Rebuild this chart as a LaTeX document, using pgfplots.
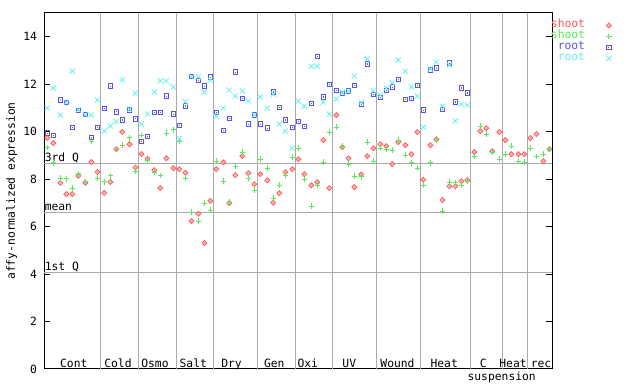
\documentclass[border=0pt]{standalone}
\usepackage{pgfplots}
\pgfplotsset{compat=1.18}
\usepackage{fontspec}
\setmainfont{DejaVu Sans Mono}
\definecolor{cred}{RGB}{255,85,85}
\definecolor{cgreen}{RGB}{85,235,85}
\definecolor{cblue}{RGB}{85,85,235}
\definecolor{ccyan}{RGB}{100,240,240}
\definecolor{gridgray}{RGB}{170,170,170}
\newcommand\f{\fontsize{8.5}{10}\selectfont}
\pgfdeclareplotmark{sqdot}{%
  \pgfpathrectangle{\pgfqpoint{-\pgfplotmarksize}{-\pgfplotmarksize}}{\pgfqpoint{2\pgfplotmarksize}{2\pgfplotmarksize}}\pgfusepathqstroke
  \pgfpathrectangle{\pgfqpoint{-0.4pt}{-0.4pt}}{\pgfqpoint{0.8pt}{0.8pt}}\pgfusepathqfill}
\begin{document}
\begin{tikzpicture}
\path[use as bounding box] (0,0) rectangle (480pt,288pt);
\begin{axis}[
  at={(33pt,11.25pt)}, anchor=south west,
  scale only axis, width=381pt, height=267pt,
  xmin=44, xmax=552, ymin=0, ymax=15,
  clip=false,
  axis line style={line width=0.75pt},
  xtick=\empty,
  ytick={0,2,...,14},
  tick align=inside, ytick pos=both, yticklabel pos=left,
  major tick length=4.5pt,
  every tick/.style={black, line width=0.75pt},
  /pgf/number format/assume math mode=true,
  ticklabel style={font=\f},
  yticklabel style={xshift=-1.7pt},
  extra x ticks={100,138.3,176.3,213.3,257.3,295.3,332.3,376.5,420.3,470.3,502.3,527.3},
  extra x tick labels={},
  extra x tick style={grid=major, major tick length=0pt},
  extra y ticks={4.08,6.61,8.67},
  extra y tick labels={},
  extra y tick style={grid=major, major tick length=0pt, ytick pos=left},
  major grid style={color=gridgray, line width=0.75pt},
  ylabel={affy-normalized expression},
  ylabel style={font=\f, at={(axis description cs:-0.0635,0.5)}, anchor=center},
  legend style={at={(rel axis cs:1,1)}, anchor=north west, xshift=-0.8pt, yshift=-5.2pt,
    draw=none, fill=none, inner sep=0pt, outer sep=0pt, font=\f,
    nodes={inner sep=0pt, text height=6pt, text depth=2.25pt},
    /tikz/column sep=15.75pt, row sep=0pt},
  legend cell align=right,
  legend plot pos=right,
]
\addplot[only marks, mark=square*, mark size=1.35pt, mark options={rotate=45, draw=cred, fill=cred!45, line width=0.5pt}] coordinates {
(47.3,9.74)(53.3,9.52)(60.3,7.84)(66.3,7.37)(72.3,7.37)(78.3,8.14)(85.3,7.85)(91.3,8.72)(97.3,8.30)
(104.3,7.42)(110.3,7.88)(116.3,9.26)(122.3,9.99)(129.5,9.47)(135.3,8.49)
(141.3,9.06)(147.5,8.85)(154.3,8.38)(160.3,7.62)(166.3,8.88)(173.3,8.46)
(179.3,8.42)(185.3,8.27)(191.5,6.23)(198.3,6.54)(204.3,5.31)(210.3,7.08)
(216.3,8.42)(223.3,8.71)(229.3,6.99)(235.3,8.17)(242.3,8.97)(248.3,8.25)(254.3,7.79)
(260.3,8.21)(267.3,7.95)(273.3,7.01)(279.3,7.41)(285.3,8.29)(292.3,8.42)
(298.3,8.84)(304.3,8.21)(311.3,7.74)(317.3,7.87)(323.3,9.64)(329.3,7.62)
(336.3,10.7)(342.3,9.35)(348.3,8.88)(354.3,7.66)(361.3,8.2)(367.3,8.97)(373.3,9.3)
(380.3,9.47)(386.3,9.39)(392.3,8.63)(398.3,9.56)(405.3,9.43)(411.3,9.05)(417.3,9.98)
(423.3,7.98)(430.3,9.43)(436.3,9.68)(442.3,7.12)(449.3,7.7)(455.3,7.7)(461.3,7.91)(467.3,7.96)
(474.3,9.14)(480.3,10.02)(486.3,10.15)(492.3,9.18)(499.3,9.98)
(505.3,9.64)(511.3,9.05)(518.3,9.05)(524.3,9.05)
(530.3,9.73)(536.3,9.9)(543.3,8.76)(549.3,9.26)
};
\addlegendentry{\textcolor{cred}{shoot}}
\addplot[only marks, mark=+, mark size=2.1pt, mark options={draw=cgreen, line width=0.75pt}] coordinates {
(47.3,9.33)(53.3,8.69)(60.3,8.04)(66.3,8.01)(72.3,7.62)(78.3,8.22)(85.3,7.9)(91.3,9.6)(97.3,8.04)
(104.3,7.88)(110.3,8.14)(116.3,9.25)(122.3,9.43)(129.5,9.74)(135.3,8.34)
(141.3,9.84)(147.5,8.77)(154.3,8.29)(160.3,8.16)(166.3,9.94)(173.3,10.07)
(179.3,9.6)(185.3,8.04)(191.5,6.61)(198.3,6.23)(204.3,6.99)(210.3,6.69)
(216.3,8.76)(223.3,7.91)(229.3,7.03)(235.3,8.55)(242.3,9.14)(248.3,8.04)(254.3,7.53)
(260.3,8.84)(267.3,8.46)(273.3,7.2)(279.3,7.74)(285.3,8.17)(292.3,8.92)
(298.3,9.3)(304.3,7.99)(311.3,6.86)(317.3,7.74)(323.3,8.71)(329.3,9.98)
(336.3,10.19)(342.3,9.39)(348.3,8.63)(354.3,8.12)(361.3,8.1)(367.3,9.56)(373.3,8.76)
(380.3,9.31)(386.3,9.26)(392.3,9.22)(398.3,9.64)(405.3,9.01)(411.3,8.69)(417.3,8.46)
(423.3,7.74)(430.3,8.69)(436.3,9.64)(442.3,6.65)(449.3,7.87)(455.3,7.84)(461.3,7.74)(467.3,7.91)
(474.3,8.96)(480.3,10.23)(486.3,9.9)(492.3,9.14)(499.3,8.84)
(505.3,9.05)(511.3,9.39)(518.3,8.76)(524.3,8.72)
(530.3,9.31)(536.3,8.96)(543.3,9.05)(549.3,9.26)
};
\addlegendentry{\textcolor{cgreen}{shoot}}
\addplot[only marks, mark=sqdot, mark size=1.6pt, mark options={draw=cblue, fill=cblue, line width=0.7pt}] coordinates {
(47.3,9.94)(53.3,9.85)(60.3,11.34)(66.3,11.24)(72.3,10.19)(78.3,10.88)(85.3,10.71)(91.3,9.77)(97.3,10.19)
(104.3,10.99)(110.3,11.92)(116.3,10.83)(122.3,10.49)(129.5,10.91)(135.3,10.54)
(141.3,9.6)(147.5,9.81)(154.3,10.82)(160.3,10.82)(166.3,11.5)(173.3,10.74)
(179.3,10.27)(185.3,11.08)(191.5,12.31)(198.3,12.17)(204.3,11.92)(210.3,12.3)
(216.3,10.82)(223.3,10.06)(229.3,10.57)(235.3,12.51)(242.3,11.41)(248.3,10.32)(254.3,10.7)
(260.3,10.32)(267.3,10.15)(273.3,11.67)(279.3,11.03)(285.3,10.49)(292.3,10.19)
(298.3,10.44)(304.3,10.23)(311.3,11.2)(317.3,13.18)(323.3,11.46)(329.3,12.0)
(336.3,11.75)(342.3,11.6)(348.3,11.71)(354.3,11.96)(361.3,11.16)(367.3,12.85)(373.3,11.58)
(380.3,11.45)(386.3,11.75)(392.3,11.88)(398.3,12.21)(405.3,11.37)(411.3,11.41)(417.3,11.96)
(423.3,10.91)(430.3,12.6)(436.3,12.68)(442.3,10.95)(449.3,12.89)(455.3,11.25)(461.3,11.84)(467.3,11.63)
};
\addlegendentry{\textcolor{cblue}{root}}
\addplot[only marks, mark=x, mark size=2.7pt, mark options={draw=ccyan, line width=0.6pt}] coordinates {
(47.3,10.99)(53.3,11.84)(60.3,10.7)(66.3,11.24)(72.3,12.55)(78.3,10.92)(85.3,10.71)(91.3,10.7)(97.3,11.34)
(104.3,10.03)(110.3,10.24)(116.3,10.42)(122.3,12.18)(129.5,10.95)(135.3,11.62)
(141.3,10.32)(147.5,10.75)(154.3,11.67)(160.3,12.14)(166.3,12.14)(173.3,11.88)
(179.3,9.7)(185.3,11.26)(191.5,12.31)(198.3,12.31)(204.3,11.67)(210.3,12.17)
(216.3,10.65)(223.3,10.99)(229.3,11.75)(235.3,11.5)(242.3,11.71)(248.3,11.29)(254.3,10.7)
(260.3,11.46)(267.3,10.99)(273.3,11.58)(279.3,10.32)(285.3,10.02)(292.3,9.3)
(298.3,11.29)(304.3,11.07)(311.3,12.76)(317.3,12.76)(323.3,11.24)(329.3,10.74)
(336.3,11.37)(342.3,11.65)(348.3,11.71)(354.3,12.34)(361.3,11.24)(367.3,13.06)(373.3,11.72)
(380.3,11.54)(386.3,11.84)(392.3,12.06)(398.3,13.02)(405.3,12.55)(411.3,11.88)(417.3,11.5)
(423.3,10.19)(430.3,12.65)(436.3,12.93)(442.3,11.08)(449.3,12.81)(455.3,10.45)(461.3,11.16)(467.3,11.12)
};
\addlegendentry{\textcolor{ccyan}{root}}
\node[font=\f, anchor=base west, inner sep=0pt] at (axis cs:44.5,8.67) [yshift=1.1pt] {3rd Q};
\node[font=\f, anchor=base west, inner sep=0pt] at (axis cs:44.5,6.61) [yshift=1.1pt] {mean};
\node[font=\f, anchor=base west, inner sep=0pt] at (axis cs:44.5,4.08) [yshift=1.1pt] {1st Q};
\node[font=\f, anchor=base, inner sep=0pt] at (axis cs:73.8,0) [yshift=0.75pt] {Cont};
\node[font=\f, anchor=base, inner sep=0pt] at (axis cs:118,0) [yshift=0.75pt] {Cold};
\node[font=\f, anchor=base, inner sep=0pt] at (axis cs:155,0) [yshift=0.75pt] {Osmo};
\node[font=\f, anchor=base, inner sep=0pt] at (axis cs:193.3,0) [yshift=0.75pt] {Salt};
\node[font=\f, anchor=base, inner sep=0pt] at (axis cs:231.5,0) [yshift=0.75pt] {Dry};
\node[font=\f, anchor=base, inner sep=0pt] at (axis cs:274.3,0) [yshift=0.75pt] {Gen};
\node[font=\f, anchor=base, inner sep=0pt] at (axis cs:307.8,0) [yshift=0.75pt] {Oxi};
\node[font=\f, anchor=base, inner sep=0pt] at (axis cs:349.3,0) [yshift=0.75pt] {UV};
\node[font=\f, anchor=base, inner sep=0pt] at (axis cs:397.5,0) [yshift=0.75pt] {Wound};
\node[font=\f, anchor=base, inner sep=0pt] at (axis cs:444.2,0) [yshift=0.75pt] {Heat};
\node[font=\f, anchor=base, inner sep=0pt] at (axis cs:483.3,0) [yshift=0.75pt] {C};
\node[font=\f, anchor=base, inner sep=0pt] at (axis cs:513,0) [yshift=0.75pt] {Heat};
\node[font=\f, anchor=base, inner sep=0pt] at (axis cs:541,0) [yshift=0.75pt] {rec};
\node[font=\f, anchor=base, inner sep=0pt] at (axis cs:501.7,0) [yshift=-8.3pt] {suspension};
\end{axis}
\end{tikzpicture}
\end{document}
